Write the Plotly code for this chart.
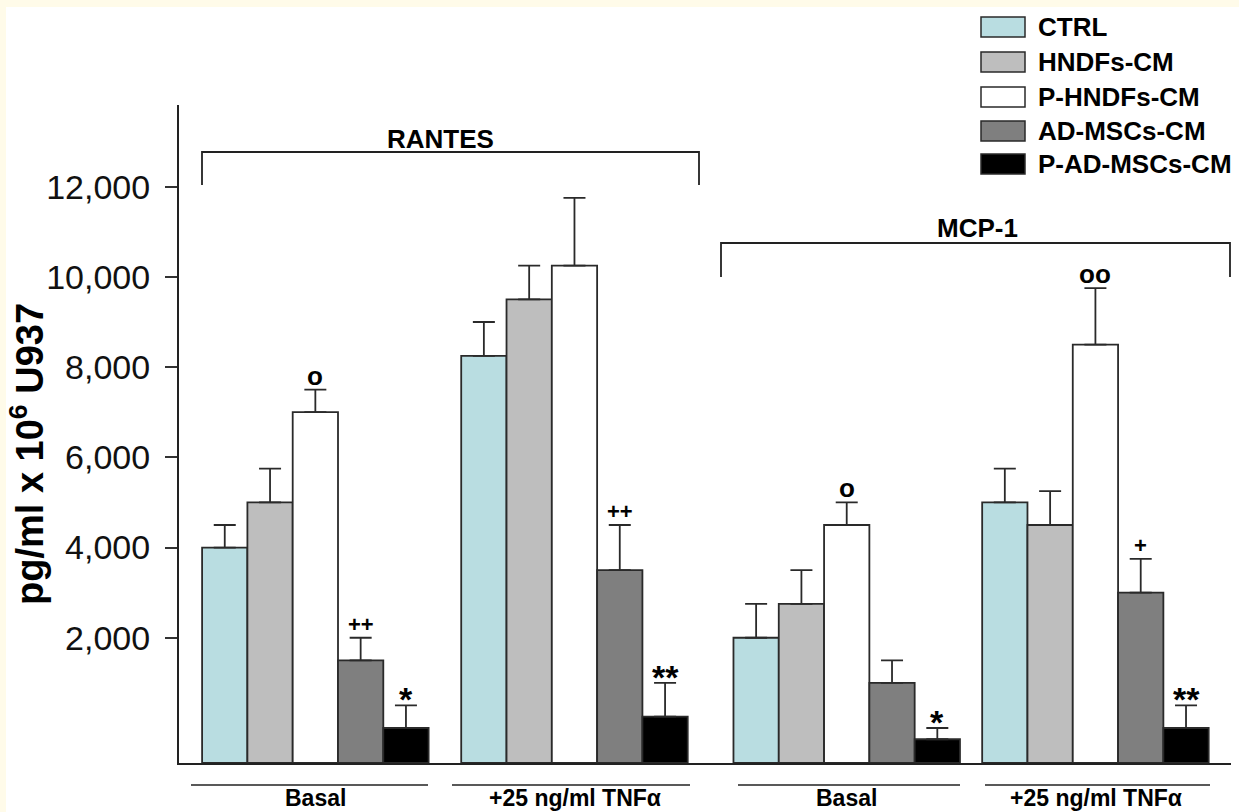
import plotly.graph_objects as go

# ---------------- data ----------------
groups = ["Basal", "+25 ng/ml TNFα", "Basal", "+25 ng/ml TNFα"]
series_names = ["CTRL", "HNDFs-CM", "P-HNDFs-CM", "AD-MSCs-CM", "P-AD-MSCs-CM"]

ctrl = [4000, 8250, 2000, 5000]
ctrl_err = [500, 750, 750, 750]
hndfs = [5000, 9500, 2750, 4500]
hndfs_err = [750, 750, 750, 750]
phndfs = [7000, 10250, 4500, 8500]
phndfs_err = [500, 1500, 500, 1250]
admscs = [1500, 3500, 1000, 3000]
admscs_err = [500, 1000, 500, 750]
padmscs = [0, 250, -250, 0]
padmscs_err = [500, 750, 250, 500]

ctrl_sig = ["", "", "", ""]
hndfs_sig = ["", "", "", ""]
phndfs_sig = ["o", "", "o", "oo"]
admscs_sig = ["++", "++", "", "+"]
padmscs_sig = ["*", "**", "*", "**"]

y_ticks = [2000, 4000, 6000, 8000, 10000, 12000]
y_ticktext = ["2,000", "4,000", "6,000", "8,000", "10,000", "12,000"]

# ---------------- layout constants ----------------
W, H = 1239, 812
L, R, T, B = 179, 8, 105, 49
PW, PH = W - L - R, H - T - B
Y_FLOOR = -776
Y_TOP = 13810
X_MAX = PW / 45.3
group_centers = [3.01, 8.73, 14.74, 20.23]
bar_w = 1.0

colors = ["#B9DDE1", "#BEBEBE", "#FFFFFF", "#7F7F7F", "#000000"]
FONT = "Arial, Liberation Sans, Helvetica, sans-serif"

values = [ctrl, hndfs, phndfs, admscs, padmscs]
errs = [ctrl_err, hndfs_err, phndfs_err, admscs_err, padmscs_err]
sigs = [ctrl_sig, hndfs_sig, phndfs_sig, admscs_sig, padmscs_sig]


def px(xp):
    return (xp - L) / PW


def py(yp):
    return (H - B - yp) / PH


fig = go.Figure()
annotations = []
shapes = []

for i, (name, vals, er, col, sg) in enumerate(zip(series_names, values, errs, colors, sigs)):
    xs = [g + (i - 2) * bar_w for g in group_centers]
    fig.add_trace(go.Bar(
        x=xs, y=[v - Y_FLOOR for v in vals], base=Y_FLOOR, width=bar_w,
        name=name, marker=dict(color=col, line=dict(color="#2a2a2a", width=1.8)),
        error_y=dict(type="data", array=er, arrayminus=[0] * len(er), symmetric=False,
                     color="#2a2a2a", thickness=1.8, width=11),
        showlegend=False, customdata=vals,
        hovertemplate=name + ": %{customdata}<extra></extra>",
    ))
    for x, v, e, s in zip(xs, vals, er, sg):
        if not s:
            continue
        if "*" in s:
            fsize, ysh = 34, -15
        elif "+" in s:
            fsize, ysh = 22, -1
        else:
            fsize, ysh = 26, -3
        annotations.append(dict(x=x, y=v + e, xref="x", yref="y", text="<b>%s</b>" % s,
                                showarrow=False, xanchor="center", yanchor="bottom", yshift=ysh,
                                font=dict(family=FONT, size=fsize, color="#000")))

# brackets
brackets = [("RANTES", 202, 699, 152, 185, 440, 139), ("MCP-1", 721, 1230, 243, 277, 977, 228)]
for label, x0p, x1p, ytop, ybot, tx, ty in brackets:
    shapes.append(dict(type="path", xref="paper", yref="paper",
                       path="M %f,%f L %f,%f L %f,%f L %f,%f" % (px(x0p), py(ybot), px(x0p), py(ytop),
                                                                 px(x1p), py(ytop), px(x1p), py(ybot)),
                       line=dict(color="#222", width=1.8)))
    annotations.append(dict(x=px(tx), y=py(ty), xref="paper", yref="paper", text="<b>%s</b>" % label,
                            showarrow=False, xanchor="center", yanchor="middle",
                            font=dict(family=FONT, size=26, color="#000")))

# group underlines and labels
underlines = [(191, 428), (452, 690), (738, 960), (985, 1210)]
label_x = [315, 575, 846, 1096]
for (u0, u1), lx, g in zip(underlines, label_x, groups):
    shapes.append(dict(type="line", xref="paper", yref="paper", x0=px(u0), x1=px(u1),
                       y0=py(785), y1=py(785), line=dict(color="#222", width=1.5)))
    annotations.append(dict(x=px(lx), y=py(798), xref="paper", yref="paper", text="<b>%s</b>" % g,
                            showarrow=False, xanchor="center", yanchor="middle",
                            font=dict(family=FONT, size=23, color="#000")))

# legend (drawn)
leg_y = [27, 62, 97, 131, 164]
for name, col, yc in zip(series_names, colors, leg_y):
    shapes.append(dict(type="rect", xref="paper", yref="paper", x0=px(981), x1=px(1025),
                       y0=py(yc + 10), y1=py(yc - 10), fillcolor=col,
                       line=dict(color="#2a2a2a", width=1.5)))
    annotations.append(dict(x=px(1036), y=py(yc), xref="paper", yref="paper", text="<b>%s</b>" % name,
                            showarrow=False, xanchor="left", yanchor="middle",
                            font=dict(family=FONT, size=26, color="#000")))

# y title
annotations.append(dict(x=px(27), y=py(454), xref="paper", yref="paper",
                        text="<b>pg/ml x 10<sup>6</sup> U937</b>", textangle=-90, showarrow=False,
                        xanchor="center", yanchor="middle",
                        font=dict(family=FONT, size=38, color="#000")))

# cream frame
shapes.insert(0, dict(type="rect", xref="paper", yref="paper", layer="below",
                      x0=px(6), x1=px(W + 5), y0=py(H + 5), y1=py(7),
                      fillcolor="#FFFFFF", line=dict(width=0)))

fig.update_layout(
    width=W, height=H,
    margin=dict(l=L, r=R, t=T, b=B),
    paper_bgcolor="#FFFBE9", plot_bgcolor="#FFFFFF",
    barmode="overlay",
    font=dict(family=FONT, color="#000"),
    xaxis=dict(range=[0, X_MAX], showgrid=False, zeroline=False, showticklabels=False,
               ticks="", showline=True, linecolor="#222", linewidth=2, fixedrange=True),
    yaxis=dict(range=[Y_FLOOR, Y_TOP], showgrid=False, zeroline=False, tickvals=y_ticks,
               ticktext=y_ticktext, ticks="outside", ticklen=12, tickwidth=1.5, tickcolor="#333",
               showline=True, linecolor="#222", linewidth=2, ticklabelstandoff=8,
               tickfont=dict(family=FONT, size=34, color="#111"), fixedrange=True),
    shapes=shapes, annotations=annotations,
)

fig.write_html("out.html", config={"displayModeBar": False},
               post_script="document.body.style.margin='0';document.body.style.overflow='hidden';")
